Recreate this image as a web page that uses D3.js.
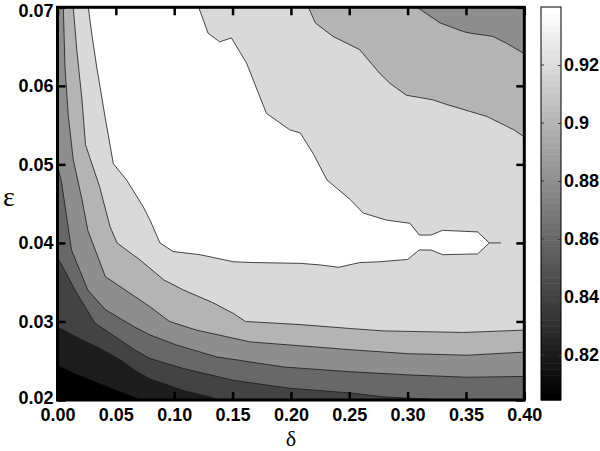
<!DOCTYPE html>
<html><head><meta charset="utf-8">
<script src="https://cdn.jsdelivr.net/npm/d3@7"></script>
<style>body{margin:0;background:#fff}svg{display:block}</style>
</head><body>
<svg id="c" width="600" height="451"></svg>
<script>
// ---- data: contour boundaries [delta, epsilon] ----
const levels = [0.82, 0.84, 0.86, 0.88, 0.90, 0.92, 0.94];
const colorMin = 0.8045, colorMax = 0.94;
const xTicks = [0, 0.05, 0.10, 0.15, 0.20, 0.25, 0.30, 0.35, 0.40];
const yTicks = [0.02, 0.03, 0.04, 0.05, 0.06, 0.07];
const cbTicks = [0.82, 0.84, 0.86, 0.88, 0.90, 0.92];
const cbLabels = ["0.82", "0.84", "0.86", "0.88", "0.9", "0.92"];

const c082 = [[0,0.0245],[0.015,0.0234],[0.032,0.0224],[0.049,0.0214],[0.066,0.0204],[0.072,0.02]];
const c084 = [[0,0.0293],[0.019,0.0278],[0.036,0.0266],[0.054,0.0251],[0.066,0.0238],[0.079,0.0227],[0.108,0.0212],[0.133,0.0203],[0.138,0.02]];
const c086 = [[0,0.0382],[0.015,0.0340],[0.032,0.0298],[0.066,0.0264],[0.079,0.0253],[0.108,0.0240],[0.151,0.0225],[0.199,0.0215],[0.251,0.0209],[0.279,0.0204],[0.319,0.0201],[0.323,0.02]];
const c088 = [[0,0.0499],[0.0036,0.0476],[0.012,0.0391],[0.026,0.0340],[0.041,0.0315],[0.066,0.0293],[0.079,0.0283],[0.102,0.0270],[0.136,0.0255],[0.194,0.0242],[0.251,0.0236],[0.300,0.0232],[0.351,0.0229],[0.40,0.0230]];
const c090a = [[0.005,0.07],[0.0064,0.0624],[0.0093,0.0561],[0.0135,0.0506],[0.021,0.0455],[0.026,0.0416],[0.041,0.0357],[0.066,0.0332],[0.079,0.0319],[0.096,0.0300],[0.119,0.0289],[0.165,0.0274],[0.251,0.0264],[0.300,0.0259],[0.351,0.0257],[0.40,0.0261]];
const c090b = [[0.308,0.07],[0.316,0.0692],[0.328,0.0680],[0.348,0.0669],[0.354,0.0667],[0.373,0.0663],[0.385,0.0654],[0.40,0.0641]];
const c092a = [[0.0135,0.07],[0.0165,0.0646],[0.021,0.0582],[0.024,0.0525],[0.036,0.0472],[0.045,0.0421],[0.051,0.0400],[0.071,0.0378],[0.091,0.0353],[0.108,0.0340],[0.133,0.0324],[0.151,0.0310],[0.161,0.0300],[0.208,0.0296],[0.251,0.0291],[0.279,0.0288],[0.348,0.0286],[0.40,0.0289]];
const c092b = [[0.215,0.07],[0.221,0.0680],[0.236,0.0663],[0.259,0.0646],[0.276,0.0616],[0.285,0.0603],[0.299,0.0588],[0.311,0.0585],[0.322,0.0582],[0.334,0.0576],[0.368,0.0561],[0.391,0.0544],[0.40,0.0535]];
const c094 = [[0.0264,0.07],[0.0293,0.0667],[0.0336,0.0624],[0.0407,0.0561],[0.0478,0.0501],[0.0593,0.0480],[0.0735,0.0446],[0.0793,0.0429],[0.0878,0.0400],[0.0992,0.0389],[0.122,0.0385],[0.151,0.0376],[0.168,0.0375],[0.208,0.0374],[0.225,0.0372],[0.241,0.0369],[0.259,0.0375],[0.276,0.0376],[0.30,0.0379],[0.31,0.0391],[0.32,0.0391],[0.33,0.0385],[0.36,0.0386],[0.37,0.0400],[0.36,0.0414],[0.33,0.0416],[0.32,0.0410],[0.31,0.0410],[0.302,0.0425],[0.282,0.0429],[0.262,0.0438],[0.251,0.0455],[0.231,0.0480],[0.219,0.0514],[0.208,0.0540],[0.199,0.0544],[0.179,0.0565],[0.162,0.0629],[0.149,0.0661],[0.139,0.0656],[0.129,0.0667],[0.121,0.07]];
const c094tail = [[0.37,0.04],[0.38,0.04]];

// ---- drawing ----
const svg = d3.select("#c");
const L = 57.5, R = 524.3, T = 7.3, B = 400;
const x = d3.scaleLinear().domain([0, 0.4]).range([L, R]);
const y = d3.scaleLinear().domain([0.02, 0.07]).range([B, T]);
const gray = v => { const g = Math.round(255 * Math.max(0, Math.min(1, (v - colorMin) / (colorMax - colorMin)))); return `rgb(${g},${g},${g})`; };

svg.append("clipPath").attr("id", "pc").append("rect").attr("x", L).attr("y", T).attr("width", R - L).attr("height", B - T);
const plot = svg.append("g").attr("clip-path", "url(#pc)");
const line = d3.line().x(d => x(d[0])).y(d => y(d[1]));

const xMax = 0.4, yMin = 0.02, yMax = 0.07;
const regions = [
  [levels[0], c082.concat([[xMax, yMin], [xMax, yMax], [0, yMax]])],
  [levels[1], c084.concat([[xMax, yMin], [xMax, yMax], [0, yMax]])],
  [levels[2], c086.concat([[xMax, yMin], [xMax, yMax], [0, yMax]])],
  [levels[3], c088.concat([[xMax, yMax], [0, yMax]])],
  [levels[4], c090a.concat(c090b.slice().reverse())],
  [levels[5], c092a.concat(c092b.slice().reverse())],
  [levels[6], c094]
];
plot.append("rect").attr("x", L).attr("y", T).attr("width", R - L).attr("height", B - T).attr("fill", gray(colorMin));
regions.forEach(([lv, pts]) => {
  plot.append("path").attr("d", line(pts) + "Z").attr("fill", gray(lv)).attr("stroke", "none");
});
[c082, c084, c086, c088, c090a, c090b, c092a, c092b, c094tail].forEach(pts => {
  plot.append("path").attr("d", line(pts)).attr("fill", "none").attr("stroke", "#1a1a1a").attr("stroke-width", 0.8);
});
plot.append("path").attr("d", line(c094) + "Z").attr("fill", "none").attr("stroke", "#1a1a1a").attr("stroke-width", 0.8);

// axes
const font = "'Liberation Sans', Arial, Helvetica, sans-serif";
const fmt = d3.format(".2f");
const gx = svg.append("g").attr("transform", `translate(0,${B})`)
  .call(d3.axisBottom(x).tickValues(xTicks).tickFormat(fmt).tickSizeInner(-8).tickSizeOuter(0).tickPadding(8));
const gy = svg.append("g").attr("transform", `translate(${L},0)`)
  .call(d3.axisLeft(y).tickValues(yTicks).tickFormat(fmt).tickSizeInner(-8).tickSizeOuter(0).tickPadding(4));
const gt = svg.append("g").attr("transform", `translate(0,${T})`)
  .call(d3.axisTop(x).tickValues(xTicks).tickFormat("").tickSizeInner(-8).tickSizeOuter(0));
const gr = svg.append("g").attr("transform", `translate(${R},0)`)
  .call(d3.axisRight(y).tickValues(yTicks).tickFormat("").tickSizeInner(-8).tickSizeOuter(0));
[gx, gy, gt, gr].forEach(g => {
  g.select(".domain").remove();
  g.selectAll(".tick line").attr("stroke", "#000").attr("stroke-width", 2.5);
  g.selectAll("text").attr("font-family", font).attr("font-weight", "bold").attr("font-size", 18).attr("fill", "#000");
});
gy.selectAll("text").filter(d => d === 0.07).attr("dy", "0.5em");
gy.selectAll("text").filter(d => d === 0.02).attr("dy", "0.2em");
svg.append("rect").attr("x", L).attr("y", T).attr("width", R - L).attr("height", B - T)
  .attr("fill", "none").attr("stroke", "#000").attr("stroke-width", 3);

// axis titles
svg.append("text").attr("x", 291).attr("y", 446).attr("text-anchor", "middle")
  .attr("font-family", "'Liberation Serif', 'Times New Roman', serif").attr("font-size", 22).text("δ");
svg.append("text").attr("x", 9).attr("y", 206).attr("text-anchor", "middle")
  .attr("font-family", "'Liberation Serif', 'Times New Roman', serif").attr("font-size", 28).text("ε");

// colorbar
const cbL = 541, cbR = 561, cbT = 7, cbB = 400;
const cy = d3.scaleLinear().domain([colorMin, colorMax]).range([cbB, cbT]);
const nSteps = 64;
const cb = svg.append("g");
d3.range(nSteps).forEach(i => {
  const v0 = colorMin + (colorMax - colorMin) * i / nSteps;
  const v1 = colorMin + (colorMax - colorMin) * (i + 1) / nSteps;
  const g = Math.round(255 * i / (nSteps - 1));
  cb.append("rect").attr("x", cbL).attr("width", cbR - cbL)
    .attr("y", cy(v1)).attr("height", cy(v0) - cy(v1) + 0.5)
    .attr("fill", `rgb(${g},${g},${g})`);
});
cb.append("rect").attr("x", cbL).attr("y", cbT).attr("width", cbR - cbL).attr("height", cbB - cbT)
  .attr("fill", "none").attr("stroke", "#000").attr("stroke-width", 1);
const gc = svg.append("g").attr("transform", `translate(${cbR},0)`)
  .call(d3.axisRight(cy).tickValues(cbTicks).tickFormat((d, i) => cbLabels[i]).tickSizeInner(-3).tickSizeOuter(0).tickPadding(3));
gc.select(".domain").remove();
gc.selectAll(".tick line").attr("stroke", "#333").attr("stroke-width", 1);
gc.selectAll("text").attr("font-family", font).attr("font-weight", "bold").attr("font-size", 18).attr("fill", "#000");
svg.append("g").selectAll("line").data(cbTicks).join("line")
  .attr("x1", cbL).attr("x2", cbL + 3).attr("y1", d => cy(d)).attr("y2", d => cy(d))
  .attr("stroke", "#333").attr("stroke-width", 1);
</script>
</body></html>
